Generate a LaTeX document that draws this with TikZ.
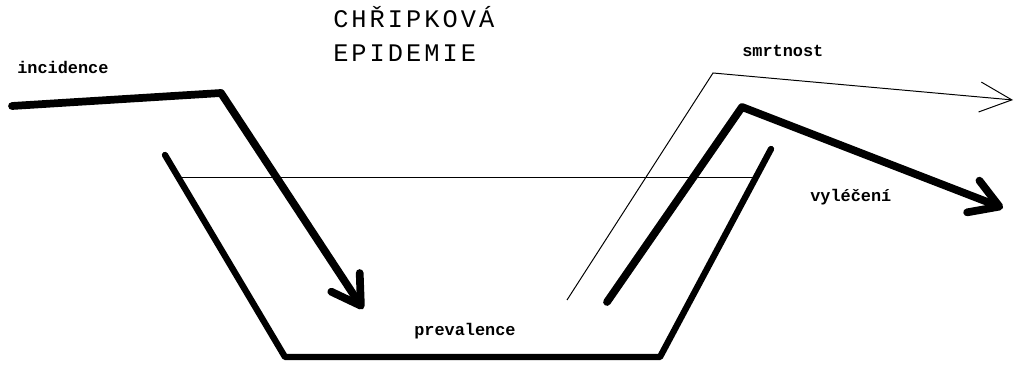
\documentclass[tikz,border=0pt]{standalone}
\usepackage{fontspec}
\setmonofont{Liberation Mono}
\usetikzlibrary{arrows.meta}

\begin{document}
\begin{tikzpicture}[
    x=0.025cm, y=-0.025cm,
    wall/.style     = {line width=4.5pt, line cap=round, line join=round},
    flow/.style     = {line width=5.5pt, line cap=round, line join=round,
                       -{Straight Barb[length=0.7cm, width=0.85cm, round]}},
    thinflow/.style = {line width=0.7pt,
                       -{Straight Barb[length=0.8cm, width=0.75cm]}},
    tag/.style      = {font=\ttfamily\bfseries\fontsize{12}{12}\selectfont,
                       inner sep=0, anchor=base west},
    title/.style    = {font=\ttfamily\fontsize{18}{18}\selectfont
                       \addfontfeatures{LetterSpace=12},
                       inner sep=0, anchor=base west},
  ]
  \useasboundingbox (0,0) rectangle (1016,365);

  % title
  \node[title] (ttl1) at (333,28) {CHŘIPKOVÁ};
  \node[title] (ttl2) at (333,62) {EPIDEMIE};

  % vessel
  \coordinate (lt) at (165,155);
  \coordinate (lb) at (285,357);
  \coordinate (rb) at (660,357);
  \coordinate (rt) at (771,149);
  \draw[wall] (lt) -- (lb) -- (rb) -- (rt);

  % level
  \coordinate (lvl_l) at (181,177);
  \coordinate (lvl_r) at (754,177);
  \draw[line width=0.7pt] (lvl_l) -- (lvl_r);

  % incidence
  \coordinate (in_start) at (12,106);
  \coordinate (in_bend)  at (221,93);
  \coordinate (in_end)   at (363,309);
  \draw[flow] (in_start) -- (in_bend) -- (in_end);

  % vyleceni
  \coordinate (out_start) at (607,302);
  \coordinate (out_bend)  at (742,107);
  \coordinate (out_end)   at (1003,208);
  \draw[flow] (out_start) -- (out_bend) -- (out_end);

  % smrtnost
  \coordinate (d_start) at (567,300);
  \coordinate (d_bend)  at (713,73);
  \coordinate (d_end)   at (1013,100);
  \draw[thinflow] (d_start) -- (d_bend) -- (d_end);

  % labels
  \node[tag] (incid) at (17,74)  {incidence};
  \node[tag] (smrt)  at (742,57) {smrtnost};
  \node[tag] (prev)  at (414,336) {prevalence};
  \node[tag] (vyl)   at (810,202) {vyléčení};
\end{tikzpicture}
\end{document}
